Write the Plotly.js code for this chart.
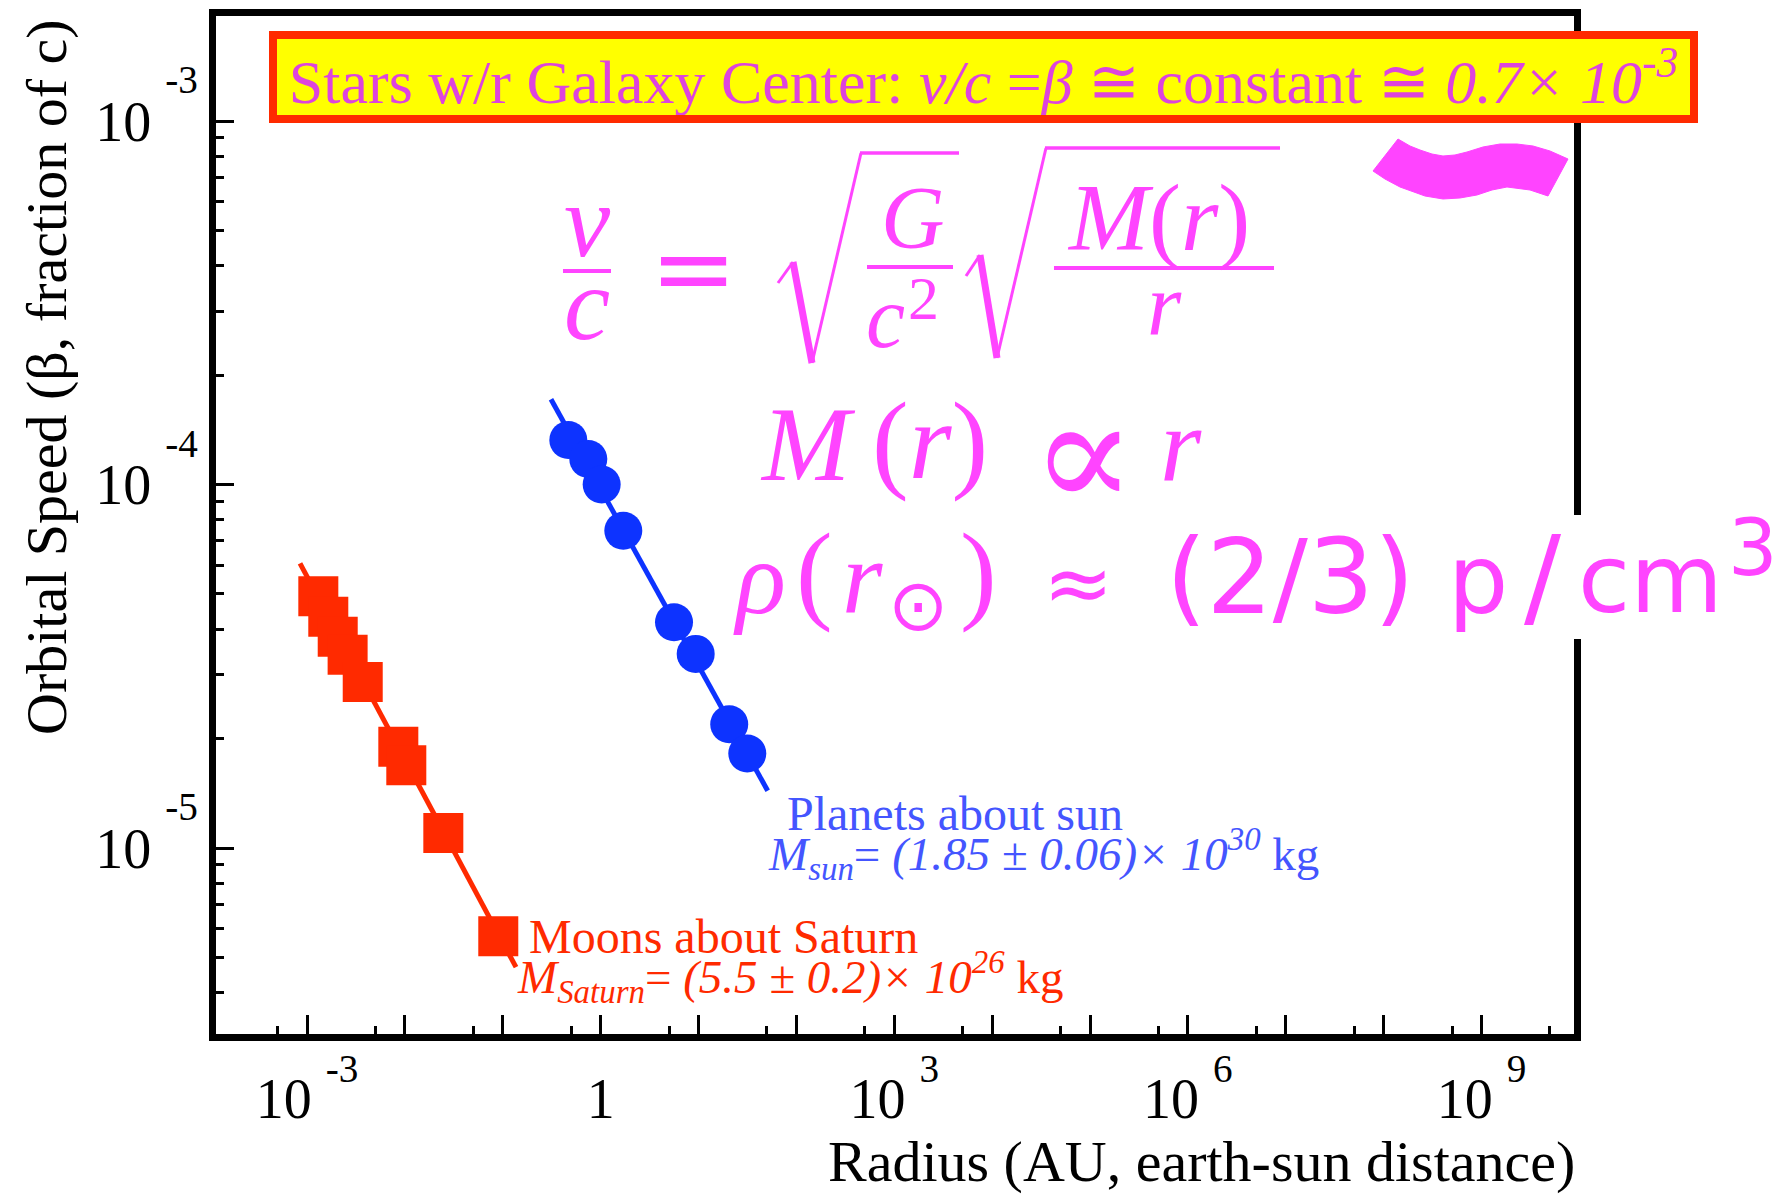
<!DOCTYPE html>
<html>
<head>
<meta charset="utf-8">
<script src="https://cdn.plot.ly/plotly-3.0.1.min.js"></script>
<style>html,body{margin:0;padding:0;background:#fff;}</style>
</head>
<body>
<div id="chart" style="width:1792px;height:1195px;"></div>
<script>
// ---------------- data ----------------
var moonRadiusAU   = [1.305e-3, 1.65e-3, 2.06e-3, 2.60e-3, 3.71e-3, 8.57e-3, 1.034e-2, 2.47e-2, 9.0e-2];
var moonBeta       = [4.93e-5, 4.33e-5, 3.81e-5, 3.40e-5, 2.86e-5, 1.90e-5, 1.69e-5, 1.10e-5, 5.72e-6];
var moonFitRadius  = [8.48e-4, 0.1366];
var moonFitBeta    = [6.07e-5, 4.70e-6];

var planetRadiusAU = [0.4675, 0.748, 1.025, 1.704, 5.62, 9.36, 20.6, 31.5];
var planetBeta     = [1.326e-4, 1.175e-4, 1.0e-4, 7.46e-5, 4.18e-5, 3.42e-5, 2.19e-5, 1.82e-5];
var planetFitRadius= [0.311, 50.9];
var planetFitBeta  = [1.716e-4, 1.437e-5];

var xLabelVals   = [1e-3, 1, 1e3, 1e6, 1e9];
var xLabelExp    = ['-3', '', '3', '6', '9'];
var xOtherDecades= [1e-2,1e-1,1e1,1e2,1e4,1e5,1e7,1e8];
var xMinorVals   = [5e-4,5e-3,5e-2,5e-1,5,50,500,5e3,5e4,5e5,5e6,5e7,5e8,5e9];
var yMajorVals   = [1e-5,1e-4,1e-3];
var yMajorExp    = ['-5','-4','-3'];
var yMinorVals   = [4e-6,5e-6,6e-6,7e-6,8e-6,9e-6,2e-5,3e-5,4e-5,5e-5,6e-5,7e-5,8e-5,9e-5,2e-4,3e-4,4e-4,5e-4,6e-4,7e-4,8e-4,9e-4];

function powLabel(e, shift){
  if(e === '') return '1';
  return '10\u00a0<sup><span style="baseline-shift:' + shift + 'px">' + e + '</span></sup>';
}
var xLabelText = xLabelExp.map(function(e){ return powLabel(e, 13); });
var yLabelText = yMajorExp.map(function(e){ return powLabel(e, 24); });

// ---------------- geometry helpers (pixel -> paper) ----------------
var L = 216, R = 1574, T = 16, B = 1034;
function fx(X){ return (X - L) / (R - L); }
function fy(Y){ return (B - Y) / (B - T); }
function P(X,Y){ return fx(X).toFixed(5) + ',' + fy(Y).toFixed(5); }

var PINK = '#ff44ff';
var SERIF = 'Liberation Serif, Times New Roman, serif';
var SANS = 'DejaVu Sans, sans-serif';

function A(text, X, Y, size, color, family, extra){
  var a = {text:text, x:fx(X), y:fy(Y), xref:'paper', yref:'paper',
           xanchor:'center', yanchor:'middle', showarrow:false,
           font:{family:family||SERIF, size:size, color:color||PINK}};
  if(extra){ for(var k in extra){ a[k] = extra[k]; } }
  return a;
}
function seg(x0,y0,x1,y1,w){
  return {type:'path', xref:'paper', yref:'paper', layer:'above',
          path:'M'+P(x0,y0)+' L'+P(x1,y1), line:{color:PINK, width:w}};
}

// ---------------- traces ----------------
var traces = [
  {x:moonFitRadius, y:moonFitBeta, mode:'lines', line:{color:'#ff2a00', width:5}, hoverinfo:'skip'},
  {x:moonRadiusAU, y:moonBeta, mode:'markers', marker:{symbol:'square', size:40, color:'#ff2a00', line:{width:0}}},
  {x:planetFitRadius, y:planetFitBeta, xaxis:'x2', mode:'lines', line:{color:'#0d33ff', width:5}, hoverinfo:'skip'},
  {x:planetRadiusAU, y:planetBeta, xaxis:'x2', mode:'markers', marker:{symbol:'circle', size:38, color:'#0d33ff', line:{width:0}}}
];

// ---------------- annotations ----------------
var anns = [];
// title box
anns.push(A('Stars w/r Galaxy Center: <i>v/c</i> =<i>β</i> ≅ constant ≅ <i>0.7× 10</i><sup><i>-3</i></sup>',
  983.5, 76.5, 62, '#dd44dd', SERIF,
  {bgcolor:'#ffff00', bordercolor:'#ff2a00', borderwidth:8, borderpad:0, width:1413, height:76}));

// equation line 1
anns.push(A('<i>v</i>', 587, 221, 104));
anns.push(A('<i>c</i>', 587, 303, 104));
anns.push(A('=', 693, 268, 104, PINK, SANS));
anns.push(A('<i>G</i>', 913, 217, 88));
anns.push(A('<i>c</i>', 885, 317, 88));
anns.push(A('2', 923, 298, 62));
anns.push(A('<i>M</i>(<i>r</i>)', 1158, 217, 96));
anns.push(A('<i>r</i>', 1164, 304, 88));

// line 2
anns.push(A('<i>M</i>', 808, 445, 106));
anns.push(A('(<i>r</i>)', 930, 441, 110));
anns.push(A('∝', 1083, 455, 155, PINK, 'DejaVu Serif, serif'));
anns.push(A('<i>r</i>', 1181, 445, 106));

// line 3
anns.push(A('<i>ρ</i>', 759, 577, 104));
anns.push(A('(', 814, 572, 110));
anns.push(A('<i>r</i>', 862, 577, 104));
anns.push(A('⊙', 918, 605, 72, PINK, SANS));
anns.push(A(')', 978, 572, 110));
anns.push(A('≈', 1078, 583, 84, PINK, SANS));
anns.push(A('(2/3)', 1290, 577, 104, PINK, SANS));
anns.push(A('p', 1478, 579, 95, PINK, SANS));
anns.push(A('/', 1543, 577, 110, PINK, SANS));
anns.push(A('cm', 1650, 579, 95, PINK, SANS));
anns.push(A('3', 1753, 548, 78, PINK, SANS));

// series labels
anns.push(A('Planets about sun', 785, 813, 48, '#4455ff', SERIF, {xanchor:'left'}));
anns.push(A('<i>M</i><sub><i>sun</i></sub>= <i>(1.85 ± 0.06)× 10</i><sup><i>30</i></sup> kg', 766, 854, 47, '#4455ff', SERIF, {xanchor:'left'}));
anns.push(A('Moons about Saturn', 527, 937, 48, '#ff2a00', SERIF, {xanchor:'left'}));
anns.push(A('<i>M</i><sub><i>Saturn</i></sub>= <i>(5.5 ± 0.2)× 10</i><sup><i>26</i></sup> kg', 515, 977, 47, '#ff2a00', SERIF, {xanchor:'left'}));

// axis titles
anns.push(A('Radius (AU, earth-sun distance)', 1577, 1161, 58, '#000000', SERIF, {xanchor:'right'}));
anns.push(A('Orbital Speed (β, fraction of c)', 46, 377, 58, '#000000', SERIF, {textangle:-90}));

// ---------------- shapes ----------------
var shapes = [];
// white break in right frame behind the density line
shapes.push({type:'rect', xref:'paper', yref:'paper', layer:'above',
  x0:fx(1564), x1:fx(1594), y0:fy(639), y1:fy(515), fillcolor:'#ffffff', line:{width:0}});
// fraction bars
shapes.push(seg(563,271,611,271,4));
shapes.push(seg(867,267,953,267,4));
shapes.push(seg(1054,268,1274,268,4));
// sqrt 1
shapes.push(seg(778,283,793,262,3));
shapes.push(seg(793,262,812,363,7));
shapes.push(seg(812,363,861,153,3));
shapes.push(seg(860,153,959,153,3.5));
// sqrt 2
shapes.push(seg(966,276,980,255,3));
shapes.push(seg(980,255,997,358,7));
shapes.push(seg(997,358,1046,148,3));
shapes.push(seg(1045,148,1280,148,3.5));
// brush tilde
var tilde = [[1398,139],[1410,146],[1420,150],[1432,154],[1443,156],[1455,155],[1467,152],[1483,147],[1500,144],[1517,144],[1533,146],[1550,151],[1568,159],
             [1548,196],[1530,190],[1507,187],[1492,190],[1477,195],[1460,198],[1443,199],[1425,196],[1400,187],[1385,179],[1373,171]];
var tp = 'M' + P(tilde[0][0], tilde[0][1]);
for(var i=1;i<tilde.length;i++){ tp += ' L' + P(tilde[i][0], tilde[i][1]); }
tp += ' Z';
shapes.push({type:'path', xref:'paper', yref:'paper', layer:'above', path:tp, fillcolor:PINK, line:{color:PINK, width:1}});

// ---------------- layout ----------------
var tickFont = {family:SERIF, size:56, color:'#000000'};
var xRange = [-3.9298, 9.945];
var layout = {
  width:1792, height:1195,
  margin:{l:L, r:1792-R, t:T, b:1195-B, pad:0},
  paper_bgcolor:'#ffffff', plot_bgcolor:'#ffffff',
  showlegend:false,
  xaxis:{type:'log', range:xRange, autorange:false,
    showline:true, linecolor:'#000000', linewidth:7, mirror:true,
    showgrid:false, zeroline:false,
    tickmode:'array', tickvals:xLabelVals, ticktext:xLabelText,
    ticks:'inside', ticklen:19, tickwidth:3, tickcolor:'#000000',
    tickfont:tickFont, ticklabelstandoff:10,
    minor:{tickmode:'array', tickvals:xMinorVals, ticks:'inside', ticklen:8, tickwidth:3, tickcolor:'#000000', showgrid:false},
    automargin:false, fixedrange:true},
  xaxis2:{type:'log', range:xRange, autorange:false, overlaying:'x', anchor:'y', side:'bottom',
    showline:true, linecolor:'#000000', linewidth:7,
    showgrid:false, zeroline:false, showticklabels:false,
    tickmode:'array', tickvals:xOtherDecades,
    ticks:'inside', ticklen:19, tickwidth:3, tickcolor:'#000000',
    automargin:false, fixedrange:true},
  yaxis:{type:'log', range:[-5.5117, -2.7111], autorange:false,
    showline:true, linecolor:'#000000', linewidth:7, mirror:true,
    showgrid:false, zeroline:false,
    tickmode:'array', tickvals:yMajorVals, ticktext:yLabelText,
    ticks:'inside', ticklen:18, tickwidth:3, tickcolor:'#000000',
    tickfont:tickFont,
    minor:{tickmode:'array', tickvals:yMinorVals, ticks:'inside', ticklen:8, tickwidth:3, tickcolor:'#000000', showgrid:false},
    automargin:false, fixedrange:true},
  annotations:anns,
  shapes:shapes
};

Plotly.newPlot('chart', traces, layout, {displayModeBar:false, staticPlot:true});
</script>
</body>
</html>
